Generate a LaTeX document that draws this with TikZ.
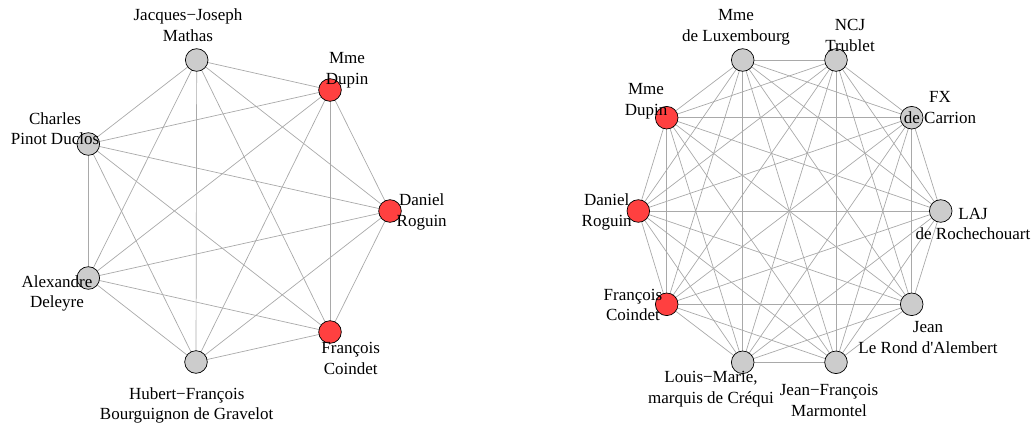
\documentclass[tikz,border=0pt]{standalone}
\usepackage{fontspec}
\newfontfamily\labfont[Ligatures=TeXOff]{Liberation Serif}
\definecolor{vred}{HTML}{FF4040}
\definecolor{vgrey}{HTML}{CCCCCC}
\definecolor{egrey}{HTML}{A9A9A9}
\pgfdeclarelayer{edgelayer}
\pgfsetlayers{edgelayer,main}
\tikzset{
  vtx/.style={circle, draw=black, line width=0.7pt, minimum size=22.6pt, inner sep=0pt},
  rv/.style={vtx, fill=vred},
  gv/.style={vtx, fill=vgrey},
  edg/.style={draw=egrey, line width=0.7pt},
  lbl/.style={align=center, inner sep=0pt, font=\labfont\fontsize{17}{20.5}\selectfont}
}
\begin{document}
\begin{tikzpicture}[x=1pt,y=-1pt]
\useasboundingbox (0,0) rectangle (1035,428);
% left graph vertices
\node[gv] (L1) at (196.7,60) {};
\node[rv] (L2) at (330,90) {};
\node[rv] (L3) at (390,211) {};
\node[rv] (L4) at (330,332) {};
\node[gv] (L5) at (196,362) {};
\node[gv] (L6) at (88.3,278) {};
\node[gv] (L7) at (88.3,144) {};
% right graph vertices
\node[gv] (R1) at (742.7,60) {};
\node[gv] (R2) at (836,60) {};
\node[gv] (R3) at (911.7,117.7) {};
\node[gv] (R4) at (940.7,211) {};
\node[gv] (R5) at (911.7,304.3) {};
\node[gv] (R6) at (836,362.3) {};
\node[gv] (R7) at (742.7,362.3) {};
\node[rv] (R8) at (666.7,304.3) {};
\node[rv] (R9) at (638.3,211) {};
\node[rv] (R10) at (666.7,117.7) {};
% edges (complete graphs), behind the vertices
\begin{pgfonlayer}{edgelayer}
\foreach \i in {1,...,6}{
  \pgfmathtruncatemacro{\s}{\i+1}
  \foreach \j in {\s,...,7}{
    \draw[edg] (L\i.center) -- (L\j.center);
  }
}
\foreach \i in {1,...,9}{
  \pgfmathtruncatemacro{\s}{\i+1}
  \foreach \j in {\s,...,10}{
    \draw[edg] (R\i.center) -- (R\j.center);
  }
}
\end{pgfonlayer}
% left labels
\node[lbl] (tL1) at (188,25) {Jacques−Joseph\\Mathas};
\node[lbl] (tL2) at (347,70) {Mme\\Dupin};
\node[lbl] (tL3) at (421.7,211.7) {Daniel\\Roguin};
\node[lbl] (tL4) at (350.7,358.5) {François\\Coindet};
\node[lbl] (tL5) at (186.7,405.5) {Hubert−François\\Bourguignon de Gravelot};
\node[lbl] (tL6) at (57,293.5) {Alexandre\\Deleyre};
\node[lbl] (tL7) at (55,128.5) {Charles\\Pinot Duclos};
% right labels
\node[lbl] (tR1) at (736,27.2) {Mme\\de Luxembourg};
\node[lbl] (tR2) at (850,35.3) {NCJ\\Trublet};
\node[lbl] (tR3) at (940,107.7) {FX\\de Carrion};
\node[lbl] (tR4) at (973,224) {LAJ\\de Rochechouart};
\node[lbl] (tR5) at (928,337.7) {Jean\\Le Rond d'Alembert};
\node[lbl] (tR6) at (829,400.3) {Jean−François\\Marmontel};
\node[lbl] (tR7) at (711,389) {Louis−Marie,\\marquis de Créqui};
\node[lbl] (tR8) at (633,305) {François\\Coindet};
\node[lbl] (tR9) at (606.7,211.7) {Daniel\\Roguin};
\node[lbl] (tR10) at (646,101.2) {Mme\\Dupin};
\end{tikzpicture}
\end{document}
